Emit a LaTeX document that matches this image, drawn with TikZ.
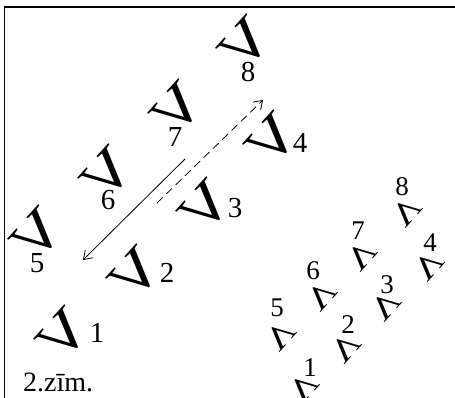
\documentclass[tikz,border=0pt]{standalone}
\usepackage{fontspec}
\setmainfont{Liberation Serif}
\usetikzlibrary{arrows.meta}
\newcommand{\mirV}{\scalebox{-1.15}[1]{V}}
\begin{document}
\begin{tikzpicture}[x=1pt,y=-1pt,
  bigv/.style={rotate=48, anchor=south, inner sep=0pt, font=\fontsize{58}{58}\selectfont},
  smallv/.style={rotate=228, anchor=south, inner sep=0pt, font=\fontsize{33}{33}\selectfont},
  biglab/.style={inner sep=0pt, font=\fontsize{29}{29}\selectfont},
  smalllab/.style={inner sep=0pt, font=\fontsize{27}{27}\selectfont},
  frame/.style={line width=1.2pt},
  arr/.style={line width=0.8pt, -{Straight Barb[length=8pt,width=11pt]}}]
\useasboundingbox (0,0) rectangle (455,398);
\coordinate (tl) at (4.5,7);
\coordinate (tr) at (455,7);
\coordinate (bl) at (4.5,398);
\draw[frame] (tr) -- (tl) -- (bl);
% large glyphs
\node[bigv] (V1) at (78,348) {\mirV};
\node[bigv] (V2) at (150,287) {\mirV};
\node[bigv] (V3) at (220,220) {\mirV};
\node[bigv] (V4) at (287,153) {\mirV};
\node[bigv] (V5) at (52,248) {\mirV};
\node[bigv] (V6) at (122,187) {\mirV};
\node[bigv] (V7) at (192,122) {\mirV};
\node[bigv] (V8) at (260,57) {\mirV};
\node[biglab] (L1) at (97,333) {1};
\node[biglab] (L2) at (167,273) {2};
\node[biglab] (L3) at (235,208) {3};
\node[biglab] (L4) at (300,143) {4};
\node[biglab] (L5) at (37,263) {5};
\node[biglab] (L6) at (108,200) {6};
\node[biglab] (L7) at (175,137) {7};
\node[biglab] (L8) at (248,72) {8};
% small glyphs
\node[smallv] (s1) at (295,380) {\mirV};
\node[smallv] (s2) at (337,340) {\mirV};
\node[smallv] (s3) at (377,298) {\mirV};
\node[smallv] (s4) at (420,258) {\mirV};
\node[smallv] (s5) at (272,328) {\mirV};
\node[smallv] (s6) at (313,288) {\mirV};
\node[smallv] (s7) at (353,248) {\mirV};
\node[smallv] (s8) at (398,204) {\mirV};
\node[smalllab] (l1) at (310,368) {1};
\node[smalllab] (l2) at (348,325) {2};
\node[smalllab] (l3) at (387,285) {3};
\node[smalllab] (l4) at (430,243) {4};
\node[smalllab] (l5) at (277,308) {5};
\node[smalllab] (l6) at (313,271) {6};
\node[smalllab] (l7) at (358,231) {7};
\node[smalllab] (l8) at (402,187) {8};
% arrows
\coordinate (a1s) at (185,159);
\coordinate (a1e) at (83,260);
\coordinate (a2s) at (157,203);
\coordinate (a2e) at (263,100);
\draw[arr] (a1s) -- (a1e);
\draw[arr, dashed, dash pattern=on 8pt off 5pt] (a2s) -- (a2e);
% caption
\node[anchor=base west, inner sep=0pt, font=\fontsize{28}{28}\selectfont] (cap) at (23,391) {2.zīm.};
\end{tikzpicture}
\end{document}
